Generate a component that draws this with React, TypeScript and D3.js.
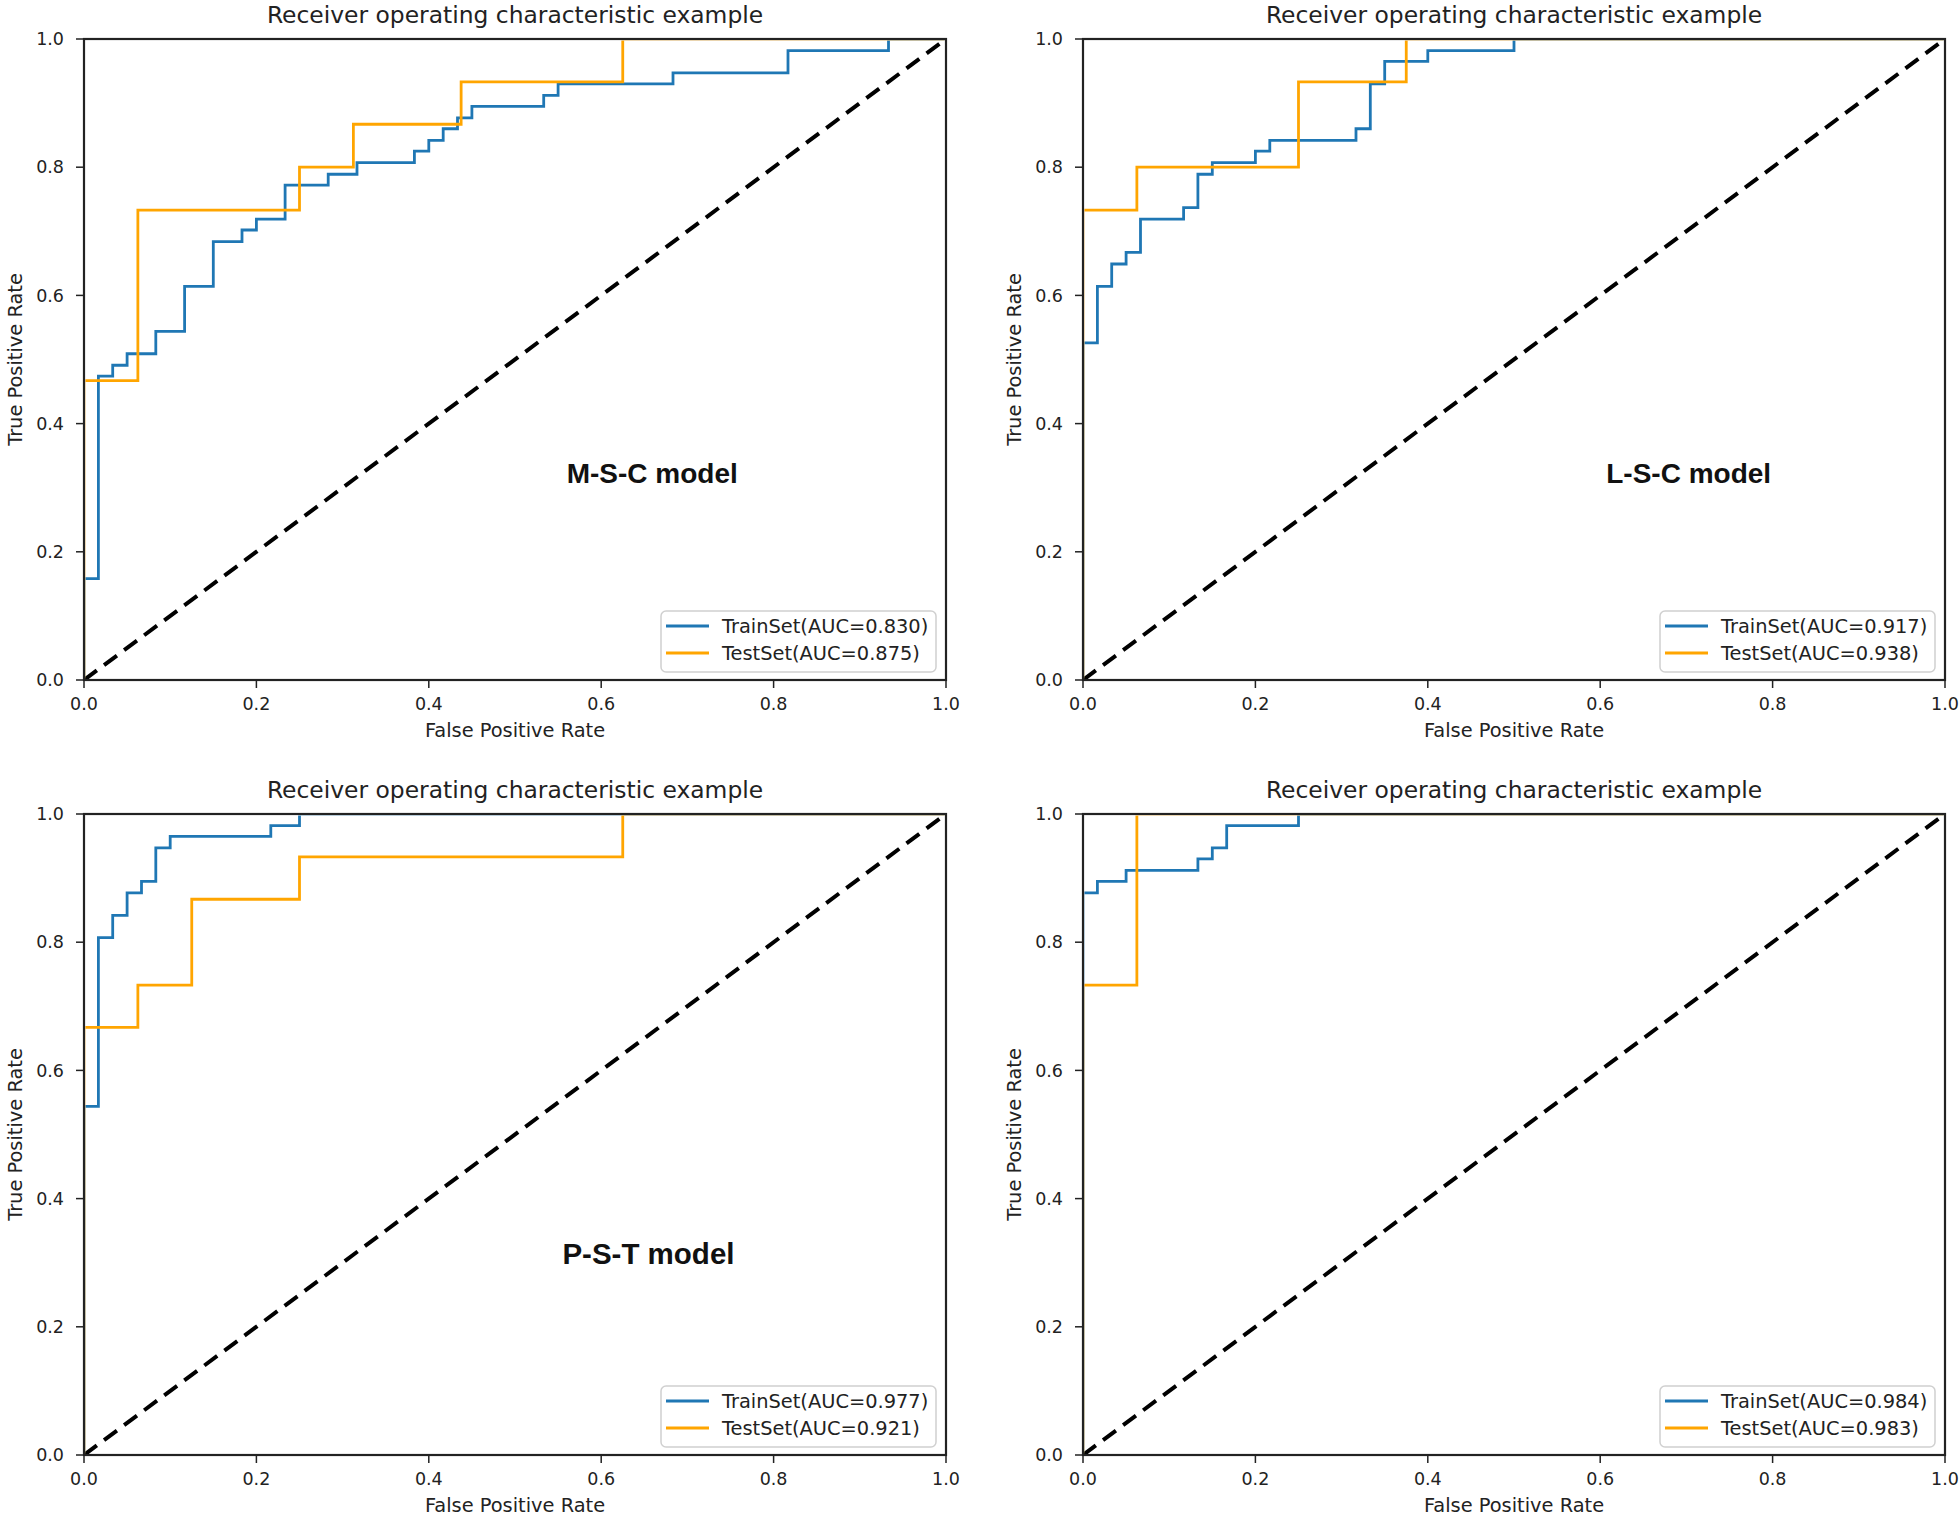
import React from 'react';
import * as d3 from 'd3';

// ---------- data ----------
const tickValues = [0, 0.2, 0.4, 0.6, 0.8, 1.0];
const chartTitle = 'Receiver operating characteristic example';
const xAxisLabel = 'False Positive Rate';
const yAxisLabel = 'True Positive Rate';
const modelNames = ['M-S-C model', 'L-S-C model', 'P-S-T model', ''];
const trainAuc = ['0.830', '0.917', '0.977', '0.984'];
const testAuc = ['0.875', '0.938', '0.921', '0.983'];

const mscTrainFpr = [0, 0, 0.0167, 0.0333, 0.05, 0.0833, 0.1167, 0.15, 0.1833, 0.2, 0.2333, 0.2833, 0.3167, 0.3833, 0.4, 0.4167, 0.4333, 0.45, 0.5333, 0.55, 0.6833, 0.8167, 0.9333, 1.0];
const mscTrainTpr = [0, 0.158, 0.474, 0.491, 0.509, 0.544, 0.614, 0.684, 0.702, 0.719, 0.772, 0.789, 0.807, 0.825, 0.842, 0.860, 0.877, 0.895, 0.912, 0.930, 0.947, 0.982, 1.0, 1.0];
const mscTestFpr = [0, 0, 0.0625, 0.25, 0.3125, 0.4375, 0.625, 1.0];
const mscTestTpr = [0, 0.467, 0.733, 0.8, 0.867, 0.933, 1.0, 1.0];

const lscTrainFpr = [0, 0, 0.0167, 0.0333, 0.05, 0.0667, 0.1167, 0.1333, 0.15, 0.2, 0.2167, 0.3167, 0.3333, 0.35, 0.4, 0.5, 1.0];
const lscTrainTpr = [0, 0.526, 0.614, 0.649, 0.667, 0.719, 0.737, 0.789, 0.807, 0.825, 0.842, 0.860, 0.930, 0.965, 0.982, 1.0, 1.0];
const lscTestFpr = [0, 0, 0.0625, 0.25, 0.375, 1.0];
const lscTestTpr = [0, 0.733, 0.8, 0.933, 1.0, 1.0];

const pstTrainFpr = [0, 0, 0.0167, 0.0333, 0.05, 0.0667, 0.0833, 0.1, 0.2167, 0.25, 1.0];
const pstTrainTpr = [0, 0.544, 0.807, 0.842, 0.877, 0.895, 0.947, 0.965, 0.982, 1.0, 1.0];
const pstTestFpr = [0, 0, 0.0625, 0.125, 0.25, 0.625, 1.0];
const pstTestTpr = [0, 0.667, 0.733, 0.867, 0.933, 1.0, 1.0];

const comTrainFpr = [0, 0, 0.0167, 0.05, 0.1333, 0.15, 0.1667, 0.25, 1.0];
const comTrainTpr = [0, 0.877, 0.895, 0.912, 0.930, 0.947, 0.982, 1.0, 1.0];
const comTestFpr = [0, 0, 0.0625, 1.0];
const comTestTpr = [0, 0.733, 1.0, 1.0];

const diagonal = [0, 1];

// ---------- layout ----------
const W = 1960;
const H = 1516;
const PW = 862;
const PH = 641;
const panelLefts = [84, 1083, 84, 1083];
const panelTops = [39, 39, 814, 814];
const labelPos = [
  { x: 0.56, y: 0.307 },
  { x: 0.607, y: 0.307 },
  { x: 0.555, y: 0.298 },
  { x: 0.6, y: 0.3 },
];
const labelSizes = [28, 28, 29.5, 28];
const BLUE = '#1f77b4';
const ORANGE = '#ffa500';
const FONT = '"DejaVu Sans", sans-serif';

const panels = [
  { trF: mscTrainFpr, trT: mscTrainTpr, teF: mscTestFpr, teT: mscTestTpr },
  { trF: lscTrainFpr, trT: lscTrainTpr, teF: lscTestFpr, teT: lscTestTpr },
  { trF: pstTrainFpr, trT: pstTrainTpr, teF: pstTestFpr, teT: pstTestTpr },
  { trF: comTrainFpr, trT: comTrainTpr, teF: comTestFpr, teT: comTestTpr },
];

function Panel({ idx }: { idx: number }) {
  const p = panels[idx];
  const left = panelLefts[idx];
  const top = panelTops[idx];
  const x = d3.scaleLinear().domain([0, 1]).range([0, PW]);
  const y = d3.scaleLinear().domain([0, 1]).range([PH, 0]);
  const step = d3
    .line<[number, number]>()
    .x((d) => x(d[0]))
    .y((d) => y(d[1]))
    .curve(d3.curveStepAfter);
  const straight = d3
    .line<[number, number]>()
    .x((d) => x(d[0]))
    .y((d) => y(d[1]));
  const trainPts = p.trF.map((f, i) => [f, p.trT[i]] as [number, number]);
  const testPts = p.teF.map((f, i) => [f, p.teT[i]] as [number, number]);
  const diagPts = diagonal.map((v) => [v, v] as [number, number]);
  const fmt = d3.format('.1f');
  const lp = labelPos[idx];

  const legW = 275;
  const legH = 61;
  const legX = PW - 10 - legW;
  const legY = PH - 8 - legH;

  return (
    <g transform={`translate(${left},${top})`}>
      <defs>
        <clipPath id={`clip${idx}`}>
          <rect x={1.4} y={1.4} width={PW - 2.8} height={PH - 2.8} />
        </clipPath>
        <clipPath id={`clipd${idx}`}>
          <rect x={0} y={0} width={PW} height={PH} />
        </clipPath>
      </defs>
      <text x={PW / 2} y={-16} textAnchor="middle" fontFamily={FONT} fontSize={23.4} fill="#222">
        {chartTitle}
      </text>
      <path
        d={straight(diagPts) || ''}
        clipPath={`url(#clipd${idx})`}
        fill="none"
        stroke="#000"
        strokeWidth={4}
        strokeDasharray="16,9"
      />
      <g clipPath={`url(#clip${idx})`}>
        <path d={step(trainPts) || ''} fill="none" stroke={BLUE} strokeWidth={2.8} />
        <path d={step(testPts) || ''} fill="none" stroke={ORANGE} strokeWidth={2.8} />
      </g>
      {modelNames[idx] && (
        <text
          x={x(lp.x)}
          y={y(lp.y)}
          fontFamily='"Liberation Sans", Arial, sans-serif'
          fontWeight="bold"
          fontSize={labelSizes[idx]}
          fill="#111"
        >
          {modelNames[idx]}
        </text>
      )}
      {/* legend */}
      <g transform={`translate(${legX},${legY})`}>
        <rect width={legW} height={legH} rx={5} fill="#fff" fillOpacity={0.8} stroke="#d0d0d0" strokeWidth={1.5} />
        <line x1={5} x2={48} y1={15} y2={15} stroke={BLUE} strokeWidth={2.8} />
        <text x={61} y={15} dy="0.35em" fontFamily={FONT} fontSize={19.4} fill="#222">
          {`TrainSet(AUC=${trainAuc[idx]})`}
        </text>
        <line x1={5} x2={48} y1={42} y2={42} stroke={ORANGE} strokeWidth={2.8} />
        <text x={61} y={42} dy="0.35em" fontFamily={FONT} fontSize={19.4} fill="#222">
          {`TestSet(AUC=${testAuc[idx]})`}
        </text>
      </g>
      {/* spines */}
      <rect x={0} y={0} width={PW} height={PH} fill="none" stroke="#222" strokeWidth={2.2} />
      {/* x ticks */}
      {tickValues.map((t) => (
        <g key={`x${t}`} transform={`translate(${x(t)},${PH})`}>
          <line y1={0} y2={8} stroke="#222" strokeWidth={1.5} />
          <text y={24} dy="0.35em" textAnchor="middle" fontFamily={FONT} fontSize={17.5} fill="#222">
            {fmt(t)}
          </text>
        </g>
      ))}
      {/* y ticks */}
      {tickValues.map((t) => (
        <g key={`y${t}`} transform={`translate(0,${y(t)})`}>
          <line x1={0} x2={-8} stroke="#222" strokeWidth={1.5} />
          <text x={-20} dy="0.35em" textAnchor="end" fontFamily={FONT} fontSize={17.5} fill="#222">
            {fmt(t)}
          </text>
        </g>
      ))}
      <text x={PW / 2} y={PH + 50} dy="0.35em" textAnchor="middle" fontFamily={FONT} fontSize={19.4} fill="#222">
        {xAxisLabel}
      </text>
      <text
        transform={`translate(-69,${PH / 2}) rotate(-90)`}
        dy="0.35em"
        textAnchor="middle"
        fontFamily={FONT}
        fontSize={19.4}
        fill="#222"
      >
        {yAxisLabel}
      </text>
    </g>
  );
}

export default function App() {
  return (
    <svg
      width={W}
      height={H}
      viewBox={`0 0 ${W} ${H}`}
      style={{ position: 'absolute', left: 0, top: 0, background: '#fff' }}
    >
      <rect width={W} height={H} fill="#fff" />
      {[0, 1, 2, 3].map((i) => (
        <Panel key={i} idx={i} />
      ))}
    </svg>
  );
}
